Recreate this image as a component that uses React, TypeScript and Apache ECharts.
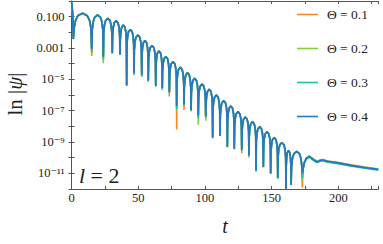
import React, { useEffect, useRef } from "react";
import * as echarts from "echarts";

const FONT = "Liberation Serif, DejaVu Serif, serif";

const seriesNames = ["Θ = 0.1", "Θ = 0.2", "Θ = 0.3", "Θ = 0.4"];
const seriesColors = ["#F28A1E", "#86CF35", "#1CC2A6", "#2878BE"];

const xTicks = [0, 50, 100, 150, 200];
const yTickExp = [-1, -3, -5, -7, -9, -11];
const yTickLabels = ["0.100", "0.001", "10⁻⁵", "10⁻⁷", "10⁻⁹", "10⁻¹¹"];

// initial drop (t, log10|psi|)
const headT = [0, 0.8];
const headLog = [-0.05, -0.8];

// times of the cusps (zeros of psi)
const dipT = [1.3, 15.1, 23.8, 30.5, 36.3, 41.3, 46.8, 52.6, 57.5, 63.1, 68, 73.3, 78.8, 84.3, 89.6, 95, 100.6, 105.8, 111.3, 116.8, 122, 127.6, 133, 138.3, 143.8, 149.3, 154.6, 160.8, 164.6, 173];

// top of each arch between two cusps, log10|psi|
const peakLog = [-0.785, -0.893, -1.104, -1.257, -1.532, -1.819, -2.17, -2.52, -2.84, -3.19, -3.54, -3.87, -4.23, -4.58, -4.93, -5.3, -5.63, -6.0, -6.36, -6.7, -7.06, -7.4, -7.7, -8.02, -8.34, -8.71, -9.03, -9.54, -9.6];

// depth of each cusp, log10|psi|, per series
const dipLog01 = [-2.43, -3.51, -3.65, -3.32, -3.45, -5.4, -4.62, -4.72, -5.08, -5.42, -5.6, -6.1, -8.2, -6.95, -7.0, -7.4, -7.4, -8.65, -8.5, -9.2, -9.4, -9.72, -9.9, -10.8, -10.6, -11.0, -11.3, -12.3, -11.75, -11.9];
const dipLog02 = [-2.43, -3.38, -3.98, -3.33, -3.45, -5.4, -4.68, -4.8, -5.12, -5.45, -5.7, -5.9, -6.8, -6.7, -7.06, -7.9, -7.65, -8.6, -8.55, -9.25, -9.35, -9.5, -10.0, -10.9, -10.58, -11.0, -11.3, -12.3, -11.75, -11.5];
const dipLog03 = [-2.43, -3.25, -3.75, -3.36, -3.45, -5.4, -4.72, -4.83, -5.15, -5.47, -5.6, -5.85, -6.9, -6.65, -7.0, -7.5, -7.45, -8.7, -8.5, -9.3, -9.4, -9.55, -9.9, -10.85, -10.62, -11.05, -11.35, -12.3, -11.75, -11.3];
const dipLog04 = [-2.43, -3.06, -3.55, -3.3, -3.42, -5.4, -4.6, -4.7, -5.05, -5.4, -5.55, -5.8, -6.7, -6.6, -6.95, -7.3, -7.35, -8.76, -8.62, -9.34, -9.46, -9.5, -9.85, -10.8, -10.6, -11.0, -11.3, -12.3, -11.75, -11.0];
const dipLogs = [dipLog01, dipLog02, dipLog03, dipLog04];

// typical arch profile: position within arch, drop from its top (decades)
const archPos = [0.04, 0.12, 0.25, 0.5, 0.75, 0.88, 0.96];
const archDrop = [-0.95, -0.45, -0.15, 0, -0.15, -0.45, -0.95];

// late-time tail
const tailT = [173.6, 174.6, 176, 178.3, 181, 184, 186.5, 188.5, 192, 200, 210, 220, 230];
const tailLog = [-10.7, -10.3, -10.05, -9.92, -10.1, -10.27, -10.18, -10.15, -10.24, -10.34, -10.5, -10.63, -10.75];
const tailShift = [0.03, 0.01, -0.05, 0.0];

function buildPoints(idx: number) {
  const pts: number[][] = [];
  const dips = dipLogs[idx];
  headT.forEach((t, i) => pts.push([t, Math.pow(10, headLog[i])]));
  for (let k = 0; k < dipT.length; k++) {
    pts.push([dipT[k], Math.pow(10, dips[k])]);
    if (k < peakLog.length) {
      const a = dipT[k];
      const b = dipT[k + 1];
      archPos.forEach((f, j) => pts.push([a + f * (b - a), Math.pow(10, peakLog[k] + archDrop[j])]));
    }
  }
  tailT.forEach((t, i) => pts.push([t, Math.pow(10, tailLog[i] + tailShift[idx])]));
  return pts;
}

export default function App() {
  const ref = useRef<HTMLDivElement>(null);
  useEffect(() => {
    if (!ref.current) return;
    const chart = echarts.init(ref.current, undefined, { renderer: "svg" });
    const axisLineStyle = { color: "#555", width: 1 };
    const tickStyle = { color: "#555", width: 1 };
    const option: any = {
      animation: false,
      grid: { left: 71.6, right: 4.7, top: 1, bottom: 55, containLabel: false },
      legend: {
        orient: "vertical",
        left: 292,
        top: 2,
        itemWidth: 21,
        itemHeight: 1.6,
        itemGap: 19,
        icon: "rect",
        data: seriesNames,
        textStyle: { fontFamily: FONT, fontSize: 13.5, color: "#222", padding: [0, 0, 0, 4], lineHeight: 15 },
      },
      xAxis: [
        {
          type: "value",
          min: 0,
          max: 230,
          interval: 50,
          position: "bottom",
          name: "t",
          nameLocation: "middle",
          nameGap: 27,
          nameTextStyle: { fontFamily: FONT, fontSize: 20, fontStyle: "italic", color: "#222" },
          axisLine: { show: true, lineStyle: axisLineStyle },
          axisTick: { show: true, inside: true, length: 3, lineStyle: tickStyle },
          minorTick: { show: true, splitNumber: 2, length: 3, lineStyle: tickStyle },
          splitLine: { show: false },
          axisLabel: {
            fontFamily: FONT,
            fontSize: 12.5,
            color: "#222",
            margin: 2,
            showMaxLabel: false,
            formatter: (v: number) => (xTicks.indexOf(v) >= 0 ? String(v) : ""),
          },
        },
        {
          type: "value",
          min: 0,
          max: 230,
          interval: 50,
          position: "top",
          axisLine: { show: true, lineStyle: axisLineStyle },
          axisTick: { show: true, inside: true, length: 3, lineStyle: tickStyle },
          minorTick: { show: true, splitNumber: 2, length: 3, lineStyle: tickStyle },
          splitLine: { show: false },
          axisLabel: { show: false },
        },
      ],
      yAxis: [
        {
          type: "log",
          logBase: 10,
          min: 1e-12,
          max: 1,
          interval: 1,
          position: "left",
          axisLine: { show: true, lineStyle: axisLineStyle },
          axisTick: { show: true, inside: true, length: 3, lineStyle: tickStyle },
          splitLine: { show: false },
          axisLabel: {
            fontFamily: FONT,
            fontSize: 12.5,
            color: "#222",
            margin: 7,
            formatter: (v: number) => {
              const e = Math.round(Math.log10(v));
              const i = yTickExp.indexOf(e);
              return i >= 0 ? yTickLabels[i] : "";
            },
          },
        },
        {
          type: "log",
          logBase: 10,
          min: 1e-12,
          max: 1,
          interval: 1,
          position: "right",
          axisLine: { show: true, lineStyle: axisLineStyle },
          axisTick: { show: true, inside: true, length: 3, lineStyle: tickStyle },
          splitLine: { show: false },
          axisLabel: { show: false },
        },
      ],
      graphic: [
        {
          type: "text",
          x: 15,
          y: 94,
          rotation: Math.PI / 2,
          style: {
            text: "{a|ln |}{b|ψ}{a||}",
            align: "center",
            verticalAlign: "middle",
            rich: {
              a: { fontFamily: FONT, fontSize: 21, fill: "#222" },
              b: { fontFamily: FONT, fontSize: 21, fontStyle: "italic", fill: "#222" },
            },
          },
        },
        {
          type: "text",
          left: 79,
          top: 164,
          style: {
            text: "{i|l}{r| = 2}",
            rich: {
              i: { fontFamily: FONT, fontSize: 22, fontStyle: "italic", fill: "#222" },
              r: { fontFamily: FONT, fontSize: 22, fill: "#222" },
            },
          },
        },
      ],
      series: seriesNames.map((name, idx) => ({
        name,
        type: "line",
        xAxisIndex: 0,
        yAxisIndex: 0,
        data: buildPoints(idx),
        showSymbol: false,
        symbol: "none",
        clip: true,
        lineStyle: { color: seriesColors[idx], width: idx === 3 ? 1.8 : 1.6 },
        itemStyle: { color: seriesColors[idx] },
        z: 2 + idx,
      })),
    };
    chart.setOption(option);
    return () => chart.dispose();
  }, []);
  return (
    <div
      ref={ref}
      style={{ position: "fixed", left: 0, top: 0, width: 383, height: 244, background: "#fff" }}
    />
  );
}
